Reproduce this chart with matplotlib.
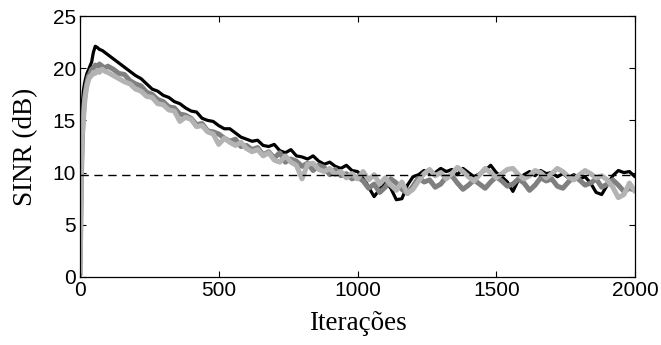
import matplotlib
matplotlib.use("Agg")
import matplotlib.pyplot as plt
import numpy as np

# Iteration grid (finer at the start)
iters = [0, 2, 5, 8, 12, 16, 20, 25, 30, 36, 42, 48, 55, 62, 70, 80, 90] + list(range(100, 2001, 20))

sinr_black = [0.3, 8.0, 13.5, 16.5, 17.8, 18.5, 19.0, 19.5, 19.8, 20.2, 20.6, 21.5, 22.1, 22.0, 21.8, 21.7, 21.5,
    21.3, 20.9, 20.5, 20.1, 19.7, 19.3, 19.0, 18.5, 18.0,
    17.8, 17.4, 17.2, 16.8, 16.6, 16.2, 15.9, 15.8, 15.2, 15.0, 14.9, 14.5, 14.2, 14.2, 13.8, 13.4, 13.2, 13.0,
    13.1, 12.6, 12.5, 12.7, 12.1, 11.9, 12.2, 11.6, 11.5, 11.3, 11.6, 11.1, 10.8, 11.0, 10.6, 10.4, 10.7, 10.2, 10.1,
    9.6, 8.6, 7.7, 8.4, 9.2, 8.5, 7.4, 7.5, 8.8, 9.6, 9.8, 10.2, 9.9, 10.0, 10.4, 10.1, 10.3, 9.8, 10.4, 10.0,
    9.6, 9.9, 10.2, 10.7, 10.0, 9.6, 9.1, 8.2, 9.3, 9.8, 10.1, 9.7, 10.2, 9.9, 10.0, 9.6, 9.9, 9.5, 9.8, 9.4,
    9.6, 9.0, 8.1, 7.9, 8.8, 9.7, 10.2, 10.0, 10.1, 9.6]

sinr_dark = [0.2, 3.5, 9.5, 13.0, 15.5, 17.0, 17.8, 18.6, 19.2, 19.5, 19.9, 20.0, 20.3, 20.1, 20.4, 20.2, 20.0,
    20.2, 19.9, 19.5, 19.4, 18.8, 18.5, 18.3, 17.7, 17.5, 17.0, 16.8, 16.3, 16.2, 15.6, 15.5, 15.2, 14.6, 14.7,
    14.0, 13.9, 13.7, 13.3, 13.0, 13.2, 12.5, 12.6, 12.2, 12.4, 11.7, 12.0, 11.4, 11.9, 11.0, 11.3, 11.1, 10.6,
    10.9, 10.2, 10.7, 10.5, 9.8, 10.3, 9.7, 9.9, 9.4, 9.6,
    9.2, 8.5, 8.9, 8.1, 8.6, 9.4, 9.0, 8.4, 8.0, 8.7, 9.5, 9.1, 9.3, 8.6, 8.9, 9.6, 9.7, 9.0, 8.4, 8.8,
    9.3, 8.9, 8.5, 9.1, 9.6, 9.2, 8.7, 8.9, 9.4, 9.0, 8.3, 8.8, 9.5, 9.2, 9.4, 8.7, 8.5, 9.1, 9.6, 9.3,
    8.8, 9.0, 9.4, 8.6, 8.9, 9.3, 8.8, 8.2, 8.5, 8.3]

sinr_light = [0.5, 5.0, 10.5, 13.5, 15.0, 16.5, 17.5, 18.3, 18.8, 19.2, 19.3, 19.6, 19.5, 19.8, 19.6, 19.9, 19.7,
    19.6, 19.3, 19.0, 18.7, 18.5, 18.0, 17.8, 17.3, 17.2, 16.6, 16.5, 16.0, 15.9, 14.9, 15.3, 15.1, 14.4, 14.5,
    13.9, 13.7, 12.7, 13.3, 12.9, 12.6, 12.9, 12.3, 12.0, 12.2, 11.6, 11.9, 11.2, 11.0, 11.6, 11.0, 10.7, 9.4,
    10.8, 10.9, 10.3, 10.1, 10.4, 9.8, 10.1, 9.5, 9.9, 9.4,
    10.1, 9.3, 9.8, 8.9, 9.5, 8.8, 8.3, 9.1, 8.0, 8.4, 9.2, 9.9, 10.3, 9.7, 10.0, 9.4, 9.9, 10.5, 10.1, 9.6,
    9.2, 9.8, 10.4, 10.0, 9.5, 9.9, 10.3, 10.4, 9.8, 9.4, 9.7, 10.2, 10.0, 9.5, 9.9, 10.4, 10.1, 9.6, 9.3, 9.8,
    10.2, 9.9, 9.5, 9.7, 9.3, 8.6, 7.6, 7.9, 9.0, 8.2]

sinr_ref = 9.75

xticks = [0, 500, 1000, 1500, 2000]
yticks = [0, 5, 10, 15, 20, 25]

fig = plt.figure(figsize=(6.61, 3.45), dpi=100)
ax = fig.add_axes([80/661, 1 - 277/345, 555/661, 261/345])

kw = dict(solid_capstyle="round", solid_joinstyle="round")
ax.plot(iters, sinr_black, color="black", lw=2.3, **kw)
ax.plot(iters, sinr_dark, color="#808080", lw=3.6, **kw)
ax.plot(iters, sinr_light, color="#b3b3b3", lw=3.6, **kw)
ax.axhline(sinr_ref, color="black", lw=1.0, dashes=(6, 4))

ax.set_xlim(0, 2000)
ax.set_ylim(0, 25)
ax.set_xticks(xticks)
ax.set_yticks(yticks)
ax.tick_params(direction="in", length=4, width=0.8, top=True, right=True,
               labelsize=15, pad=3)
for lab in ax.get_xticklabels() + ax.get_yticklabels():
    lab.set_fontfamily("Liberation Sans")
for s in ax.spines.values():
    s.set_linewidth(0.9)

ax.set_xlabel("Iterações", fontfamily="Liberation Serif", fontsize=19.5, labelpad=8)
ax.set_ylabel("SINR (dB)", fontfamily="Liberation Serif", fontsize=19.5, labelpad=10)

fig.savefig("out.png", dpi=100)
